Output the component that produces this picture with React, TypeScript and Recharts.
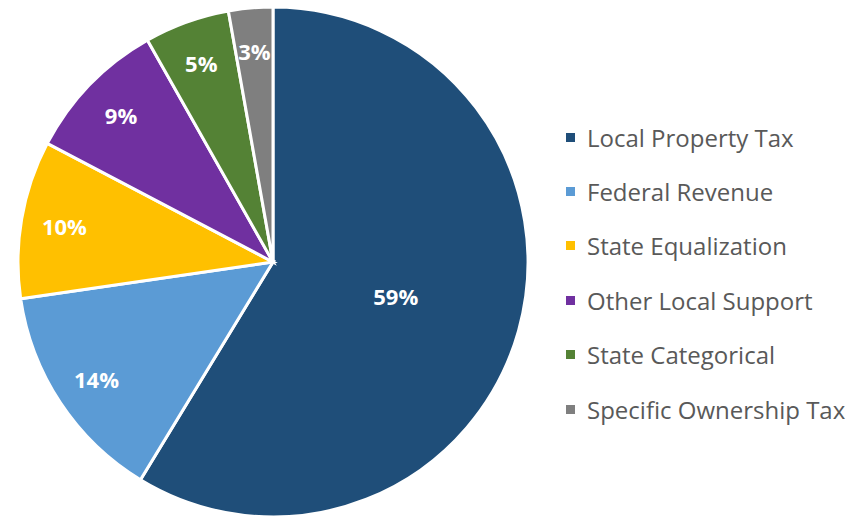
import React from 'react';
import { PieChart, Pie, Cell } from 'recharts';

const categories = [
    'Local Property Tax',
    'Federal Revenue',
    'State Equalization',
    'Other Local Support',
    'State Categorical',
    'Specific Ownership Tax',
];
const shares = [58.7, 14.0, 10.0, 9.1, 5.4, 2.8];
const colors = ['#1F4E79', '#5B9BD5', '#FFC000', '#7030A0', '#548235', '#7F7F7F'];

const data = categories.map((name, i) => ({ name, value: shares[i] }));

const RADIAN = Math.PI / 180;
const FONT = '"Open Sans", Lato, sans-serif';

// Excel-style labels: big slice label sits nearer the middle, the rest near the rim
const renderLabel = (props: any) => {
    const { cx, cy, midAngle, outerRadius, percent, index } = props;
    const r = index === 0 ? outerRadius * 0.5 : outerRadius * 0.83;
    const x = cx + r * Math.cos(-midAngle * RADIAN);
    const y = cy + r * Math.sin(-midAngle * RADIAN);
    return (
        <text
            x={x}
            y={y}
            fill="#ffffff"
            textAnchor="middle"
            dominantBaseline="central"
            style={{ fontSize: '22px', fontWeight: 700, fontFamily: FONT }}
        >
            {`${Math.round(percent * 100)}%`}
        </text>
    );
};

const App: React.FC = () => {
    return (
        <div style={{ position: 'absolute', left: 0, top: 0, width: 860, height: 517, background: '#fff' }}>
            <PieChart width={860} height={517} margin={{ top: 0, right: 0, bottom: 0, left: 0 }}>
                <Pie
                    data={data}
                    dataKey="value"
                    nameKey="name"
                    cx={273}
                    cy={262}
                    outerRadius={255}
                    startAngle={90}
                    endAngle={-270}
                    stroke="#ffffff"
                    strokeWidth={3}
                    label={renderLabel}
                    labelLine={false}
                    isAnimationActive={false}
                >
                    {data.map((d, i) => (
                        <Cell key={`cell-${i}`} fill={colors[i]} />
                    ))}
                </Pie>
            </PieChart>
            {/* legend kept outside the chart so it doesn't shift the pie */}
            <div style={{ position: 'absolute', left: 566, top: 110, fontFamily: FONT }}>
                {categories.map((name, i) => (
                    <div key={name} style={{ display: 'flex', alignItems: 'center', height: '54.4px' }}>
                        <span
                            style={{
                                width: '9px',
                                height: '9px',
                                background: colors[i],
                                marginRight: '12px',
                                flexShrink: 0,
                            }}
                        />
                        <span style={{ fontSize: '24px', color: '#595959', whiteSpace: 'nowrap' }}>{name}</span>
                    </div>
                ))}
            </div>
        </div>
    );
};

export default App;
